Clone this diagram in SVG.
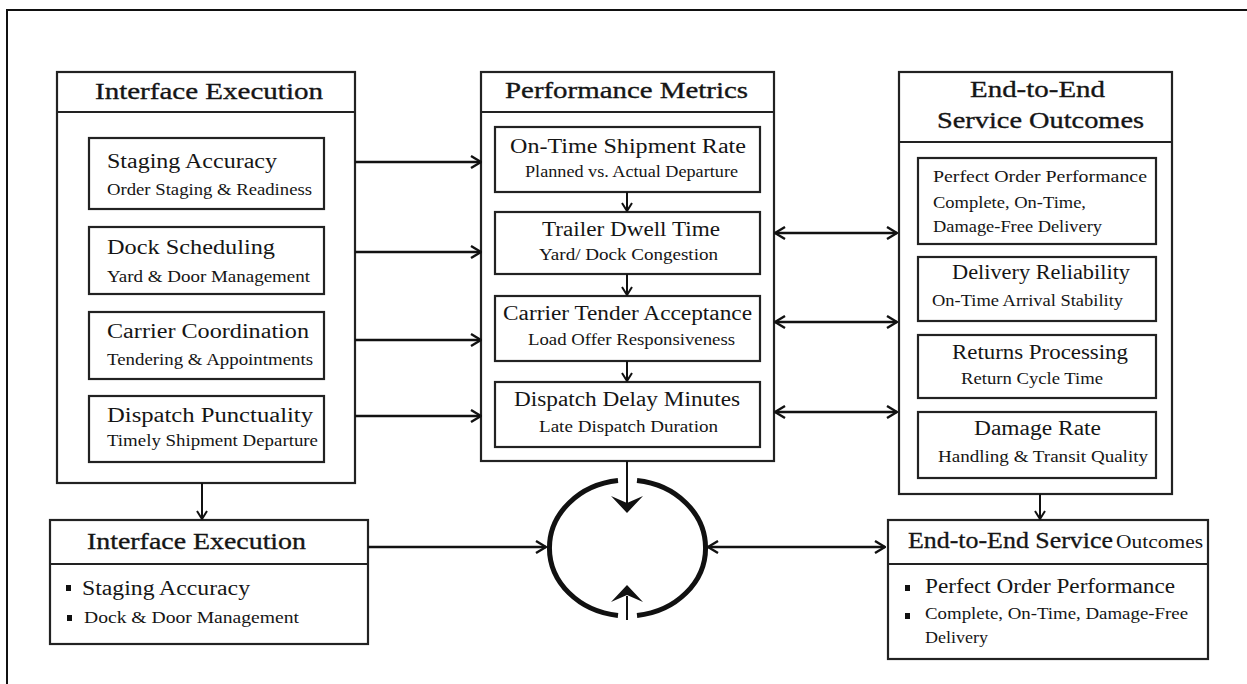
<svg xmlns="http://www.w3.org/2000/svg" width="1247" height="684" viewBox="0 0 1247 684">
  <defs>
    <style>
      .frame { fill: none; stroke: #111; stroke-width: 2; }
      .panel { fill: #fff; stroke: #222; stroke-width: 2.2; }
      .box { fill: #fff; stroke: #222; stroke-width: 2.2; }
      .div { stroke: #222; stroke-width: 2; }
      .conn { stroke: #111; stroke-width: 2.6; fill: none; }
      .thin { stroke: #111; stroke-width: 2; fill: none; }
      .ring { stroke: #111; stroke-width: 5; fill: none; }
      text { font-family: "Liberation Serif", "DejaVu Serif", serif; fill: #151515; }
      .hd { font-size: 24px; stroke: #151515; stroke-width: 0.35; }
      .ti { font-size: 20px; }
      .su { font-size: 16px; }
      .ti2 { font-size: 17px; }
      .bul { fill: #111; }
    </style>
    <marker id="chev" viewBox="0 0 12 14" refX="11" refY="7" markerWidth="12" markerHeight="14" markerUnits="userSpaceOnUse" orient="auto-start-reverse">
      <path d="M1,1 L11,7 L1,13" fill="none" stroke="#111" stroke-width="2.4"/>
    </marker>
    <marker id="chevs" viewBox="0 0 10 12" refX="9" refY="6" markerWidth="10" markerHeight="12" markerUnits="userSpaceOnUse" orient="auto-start-reverse">
      <path d="M1,1 L9,6 L1,11" fill="none" stroke="#111" stroke-width="2"/>
    </marker>
  </defs>

  <rect width="1247" height="684" fill="#fff"/>
  <!-- outer frame -->
  <rect class="frame" x="7" y="10" width="1260" height="700"/>

  <!-- left panel: interface execution -->
  <g id="interface-execution">
    <rect class="panel" x="57" y="72" width="298" height="411"/>
    <line class="div" x1="57" y1="112" x2="355" y2="112"/>
    <text class="hd" x="95" y="99" textLength="228" lengthAdjust="spacingAndGlyphs">Interface Execution</text>
  </g>
  <g id="staging-accuracy">
    <rect class="box" x="89" y="138" width="235" height="71"/>
    <text class="ti" x="107" y="168" textLength="170" lengthAdjust="spacingAndGlyphs">Staging Accuracy</text>
    <text class="su" x="107" y="195" textLength="205" lengthAdjust="spacingAndGlyphs">Order Staging &amp; Readiness</text>
  </g>
  <g id="dock-scheduling">
    <rect class="box" x="89" y="227" width="235" height="67"/>
    <text class="ti" x="107" y="254" textLength="168" lengthAdjust="spacingAndGlyphs">Dock Scheduling</text>
    <text class="su" x="107" y="282" textLength="203" lengthAdjust="spacingAndGlyphs">Yard &amp; Door Management</text>
  </g>
  <g id="carrier-coordination">
    <rect class="box" x="89" y="312" width="235" height="67"/>
    <text class="ti" x="107" y="338" textLength="202" lengthAdjust="spacingAndGlyphs">Carrier Coordination</text>
    <text class="su" x="107" y="365" textLength="206" lengthAdjust="spacingAndGlyphs">Tendering &amp; Appointments</text>
  </g>
  <g id="dispatch-punctuality">
    <rect class="box" x="89" y="396" width="235" height="66"/>
    <text class="ti" x="107" y="422" textLength="206" lengthAdjust="spacingAndGlyphs">Dispatch Punctuality</text>
    <text class="su" x="107" y="446" textLength="211" lengthAdjust="spacingAndGlyphs">Timely Shipment Departure</text>
  </g>

  <!-- middle panel: performance metrics -->
  <g id="performance-metrics">
    <rect class="panel" x="481" y="72" width="293" height="389"/>
    <line class="div" x1="481" y1="112" x2="774" y2="112"/>
    <text class="hd" x="505" y="98" textLength="243" lengthAdjust="spacingAndGlyphs">Performance Metrics</text>
  </g>
  <g id="on-time-shipment-rate">
    <rect class="box" x="495" y="127" width="265" height="65"/>
    <text class="ti" x="510" y="153" textLength="236" lengthAdjust="spacingAndGlyphs">On-Time Shipment Rate</text>
    <text class="su" x="525" y="177" textLength="213" lengthAdjust="spacingAndGlyphs">Planned vs. Actual Departure</text>
  </g>
  <g id="trailer-dwell-time">
    <rect class="box" x="495" y="212" width="265" height="62"/>
    <text class="ti" x="542" y="236" textLength="178" lengthAdjust="spacingAndGlyphs">Trailer Dwell Time</text>
    <text class="su" x="539" y="260" textLength="179" lengthAdjust="spacingAndGlyphs">Yard/ Dock Congestion</text>
  </g>
  <g id="carrier-tender-acceptance">
    <rect class="box" x="495" y="296" width="265" height="65"/>
    <text class="ti" x="503" y="320" textLength="249" lengthAdjust="spacingAndGlyphs">Carrier Tender Acceptance</text>
    <text class="su" x="528" y="345" textLength="207" lengthAdjust="spacingAndGlyphs">Load Offer Responsiveness</text>
  </g>
  <g id="dispatch-delay-minutes">
    <rect class="box" x="495" y="382" width="265" height="65"/>
    <text class="ti" x="514" y="406" textLength="226" lengthAdjust="spacingAndGlyphs">Dispatch Delay Minutes</text>
    <text class="su" x="539" y="432" textLength="179" lengthAdjust="spacingAndGlyphs">Late Dispatch Duration</text>
  </g>

  <!-- right panel: end-to-end service outcomes -->
  <g id="service-outcomes">
    <rect class="panel" x="899" y="72" width="273" height="422"/>
    <line class="div" x1="899" y1="142" x2="1172" y2="142"/>
    <text class="hd" x="970" y="97" textLength="135" lengthAdjust="spacingAndGlyphs">End-to-End</text>
    <text class="hd" x="937" y="128" textLength="207" lengthAdjust="spacingAndGlyphs">Service Outcomes</text>
  </g>
  <g id="perfect-order-performance">
    <rect class="box" x="918" y="158" width="238" height="86"/>
    <text class="ti2" x="933" y="182" textLength="214" lengthAdjust="spacingAndGlyphs">Perfect Order Performance</text>
    <text class="su" x="933" y="208" textLength="153" lengthAdjust="spacingAndGlyphs">Complete, On-Time,</text>
    <text class="su" x="933" y="232" textLength="169" lengthAdjust="spacingAndGlyphs">Damage-Free Delivery</text>
  </g>
  <g id="delivery-reliability">
    <rect class="box" x="918" y="257" width="238" height="64"/>
    <text class="ti" x="952" y="279" textLength="178" lengthAdjust="spacingAndGlyphs">Delivery Reliability</text>
    <text class="su" x="932" y="306" textLength="191" lengthAdjust="spacingAndGlyphs">On-Time Arrival Stability</text>
  </g>
  <g id="returns-processing">
    <rect class="box" x="918" y="335" width="238" height="63"/>
    <text class="ti" x="952" y="359" textLength="176" lengthAdjust="spacingAndGlyphs">Returns Processing</text>
    <text class="su" x="961" y="384" textLength="142" lengthAdjust="spacingAndGlyphs">Return Cycle Time</text>
  </g>
  <g id="damage-rate">
    <rect class="box" x="918" y="412" width="238" height="66"/>
    <text class="ti" x="974" y="435" textLength="127" lengthAdjust="spacingAndGlyphs">Damage Rate</text>
    <text class="su" x="938" y="462" textLength="210" lengthAdjust="spacingAndGlyphs">Handling &amp; Transit Quality</text>
  </g>

  <!-- bottom summary: interface execution -->
  <g id="interface-summary">
    <rect class="box" x="50" y="520" width="318" height="124"/>
    <line class="div" x1="50" y1="564" x2="368" y2="564"/>
    <text class="hd" x="87" y="549" textLength="219" lengthAdjust="spacingAndGlyphs">Interface Execution</text>
    <rect class="bul" x="66" y="585" width="5" height="6"/>
    <text class="ti" x="82" y="595" textLength="168" lengthAdjust="spacingAndGlyphs">Staging Accuracy</text>
    <rect class="bul" x="67" y="615" width="5" height="6"/>
    <text class="su" x="84" y="623" textLength="215" lengthAdjust="spacingAndGlyphs">Dock &amp; Door Management</text>
  </g>

  <!-- bottom summary: service outcomes -->
  <g id="outcomes-summary">
    <rect class="box" x="888" y="520" width="320" height="139"/>
    <line class="div" x1="888" y1="564" x2="1208" y2="564"/>
    <text x="908" y="548" style="font-size:23px;stroke:#151515;stroke-width:0.3" textLength="205" lengthAdjust="spacingAndGlyphs">End-to-End Service</text>
    <text x="1116" y="548" style="font-size:18px" textLength="87" lengthAdjust="spacingAndGlyphs">Outcomes</text>
    <rect class="bul" x="905" y="585" width="5" height="6"/>
    <text class="ti" x="925" y="593" textLength="250" lengthAdjust="spacingAndGlyphs">Perfect Order Performance</text>
    <rect class="bul" x="905" y="613" width="5" height="6"/>
    <text class="su" x="925" y="619" textLength="263" lengthAdjust="spacingAndGlyphs">Complete, On-Time, Damage-Free</text>
    <text class="su" x="925" y="643" textLength="63" lengthAdjust="spacingAndGlyphs">Delivery</text>
  </g>

  <!-- feedback loop ring: two arcs with gaps at top and bottom -->
  <g id="feedback-loop">
    <path class="ring" d="M618,480.5 A78,68 0 0,0 618,615.5"/>
    <path class="ring" d="M637,480.5 A78,68 0 0,1 637,615.5"/>
  </g>

  <!-- connectors -->
  <g id="connectors">
    <line class="conn" x1="355" y1="162" x2="481" y2="162" marker-end="url(#chev)"/>
    <line class="conn" x1="355" y1="252" x2="481" y2="252" marker-end="url(#chev)"/>
    <line class="conn" x1="355" y1="340" x2="481" y2="340" marker-end="url(#chev)"/>
    <line class="conn" x1="355" y1="416" x2="481" y2="416" marker-end="url(#chev)"/>

    <line class="conn" x1="775" y1="233" x2="897" y2="233" marker-start="url(#chev)" marker-end="url(#chev)"/>
    <line class="conn" x1="775" y1="322" x2="897" y2="322" marker-start="url(#chev)" marker-end="url(#chev)"/>
    <line class="conn" x1="775" y1="412" x2="897" y2="412" marker-start="url(#chev)" marker-end="url(#chev)"/>

    <line class="thin" x1="627" y1="192" x2="627" y2="211" marker-end="url(#chevs)"/>
    <line class="thin" x1="627" y1="274" x2="627" y2="295" marker-end="url(#chevs)"/>
    <line class="thin" x1="627" y1="361" x2="627" y2="381" marker-end="url(#chevs)"/>

    <line class="thin" x1="202" y1="483" x2="202" y2="519" marker-end="url(#chevs)"/>
    <line class="thin" x1="1040" y1="494" x2="1040" y2="519" marker-end="url(#chevs)"/>

    <line class="conn" x1="368" y1="547" x2="546" y2="547" marker-end="url(#chev)"/>
    <line class="conn" x1="708" y1="547" x2="885" y2="547" marker-start="url(#chev)" marker-end="url(#chev)"/>

    <line class="thin" x1="627" y1="461" x2="627" y2="503"/>
    <polygon fill="#111" points="611,496 627,503 643,496 627,513"/>
    <line class="thin" x1="627" y1="596" x2="627" y2="620"/>
    <polygon fill="#111" points="611,602 627,595 643,602 627,585"/>
  </g>
</svg>
